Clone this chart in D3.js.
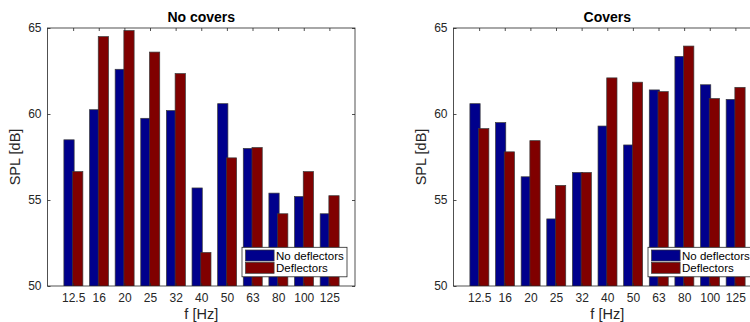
<!DOCTYPE html>
<html>
<head>
<meta charset="utf-8">
<script src="https://cdn.jsdelivr.net/npm/d3@7"></script>
<style>
  html, body { margin: 0; padding: 0; background: #fff; }
  svg { display: block; font-family: "Liberation Sans", Arial, Helvetica, sans-serif; }
</style>
</head>
<body>
<svg id="chart" width="750" height="322"></svg>
<script>
const categories = ["12.5", "16", "20", "25", "32", "40", "50", "63", "80", "100", "125"];
const seriesNames = ["No deflectors", "Deflectors"];
const noCoversNoDefl = [58.5, 60.25, 62.6, 59.75, 60.2, 55.7, 60.6, 58.0, 55.4, 55.2, 54.2];
const noCoversDefl   = [56.65, 64.5, 64.85, 63.6, 62.35, 51.95, 57.45, 58.05, 54.2, 56.65, 55.25];
const coversNoDefl   = [60.6, 59.5, 56.35, 53.9, 56.6, 59.3, 58.2, 61.4, 63.35, 61.7, 60.85];
const coversDefl     = [59.15, 57.8, 58.45, 55.85, 56.6, 62.1, 61.85, 61.3, 63.95, 60.9, 61.55];
const yTicks = [50, 55, 60, 65];
const titles = ["No covers", "Covers"];

const colors = ["#00008c", "#800000"];
const axisColor = "#262626";
const svg = d3.select("#chart");

const plotTop = 28, plotBottom = 286, plotW = 307.5;

function panel(idx, left, s1, s2) {
  const right = left + plotW;
  const x = d3.scaleLinear().domain([0, categories.length + 1]).range([left, right]);
  const y = d3.scaleLinear().domain([50, 65]).range([plotBottom, plotTop]);
  const g = svg.append("g");
  const clipId = "clip" + idx;
  svg.append("clipPath").attr("id", clipId).append("rect")
    .attr("x", left).attr("y", plotTop).attr("width", plotW).attr("height", plotBottom - plotTop);

  const bars = g.append("g").attr("clip-path", `url(#${clipId})`);
  const data = categories.map((c, i) => ({ i: i + 1, a: s1[i], b: s2[i] }));
  const bw = 0.40;
  bars.selectAll("rect.s1").data(data).join("rect").attr("class", "s1")
    .attr("x", d => x(d.i - 0.36)).attr("width", x(bw) - x(0))
    .attr("y", d => y(d.a)).attr("height", d => y(40) - y(d.a))
    .attr("fill", colors[0]).attr("stroke", "#3a3a3a").attr("stroke-width", 0.7);
  bars.selectAll("rect.s2").data(data).join("rect").attr("class", "s2")
    .attr("x", d => x(d.i - 0.02)).attr("width", x(bw) - x(0))
    .attr("y", d => y(d.b)).attr("height", d => y(40) - y(d.b))
    .attr("fill", colors[1]).attr("stroke", "#3a3a3a").attr("stroke-width", 0.7);

  const tickVals = categories.map((c, i) => i + 1);
  const fs = "12px";
  const xb = g.append("g").attr("transform", `translate(0,${plotBottom})`)
    .call(d3.axisBottom(x).tickValues(tickVals).tickFormat(d => categories[d - 1])
      .tickSizeInner(-3).tickSizeOuter(0).tickPadding(7.5));
  const xt = g.append("g").attr("transform", `translate(0,${plotTop})`)
    .call(d3.axisTop(x).tickValues(tickVals).tickFormat("").tickSizeInner(-3).tickSizeOuter(0));
  const yl = g.append("g").attr("transform", `translate(${left},0)`)
    .call(d3.axisLeft(y).tickValues(yTicks).tickFormat(d3.format("d"))
      .tickSizeInner(-3).tickSizeOuter(0).tickPadding(6));
  const yr = g.append("g").attr("transform", `translate(${right},0)`)
    .call(d3.axisRight(y).tickValues(yTicks).tickFormat("").tickSizeInner(-3).tickSizeOuter(0));
  [xb, xt, yl, yr].forEach(a => {
    a.select(".domain").remove();
    a.selectAll("line").attr("stroke", axisColor).attr("stroke-width", 0.8);
    a.selectAll("text").attr("fill", axisColor).style("font-size", fs)
      .style("font-family", "'Liberation Sans', Arial, sans-serif");
  });
  g.append("rect").attr("x", left).attr("y", plotTop).attr("width", plotW).attr("height", plotBottom - plotTop)
    .attr("fill", "none").attr("stroke", axisColor).attr("stroke-width", 0.8);

  g.append("text").attr("x", (left + right) / 2).attr("y", 21.5).attr("text-anchor", "middle")
    .style("font-size", "14px").style("font-weight", "bold").attr("fill", "#000").text(titles[idx]);
  g.append("text").attr("x", (left + right) / 2).attr("y", 319).attr("text-anchor", "middle")
    .style("font-size", "14.5px").attr("fill", axisColor).text("f [Hz]");
  g.append("text").attr("transform", `translate(${left - 27.5},${(plotTop + plotBottom) / 2}) rotate(-90)`)
    .attr("text-anchor", "middle").style("font-size", "14.5px").attr("fill", axisColor).text("SPL [dB]");

  const lw = 105, lh = 29.5;
  const lx = right - 8 - lw, ly = 247.3;
  const lg = g.append("g");
  lg.append("rect").attr("x", lx).attr("y", ly).attr("width", lw).attr("height", lh)
    .attr("fill", "#fff").attr("stroke", axisColor).attr("stroke-width", 0.8);
  seriesNames.forEach((n, k) => {
    const sy = ly + 2.7 + k * 12.3;
    lg.append("rect").attr("x", lx + 3.5).attr("y", sy).attr("width", 28.6).attr("height", 11)
      .attr("fill", colors[k]).attr("stroke", "#3a3a3a").attr("stroke-width", 0.7);
    lg.append("text").attr("x", lx + 34).attr("y", sy + 5.5).attr("dy", "0.35em")
      .style("font-size", "11.5px").attr("fill", "#000").text(n);
  });
}

panel(0, 47.5, noCoversNoDefl, noCoversDefl);
panel(1, 453.5, coversNoDefl, coversDefl);
</script>
</body>
</html>
